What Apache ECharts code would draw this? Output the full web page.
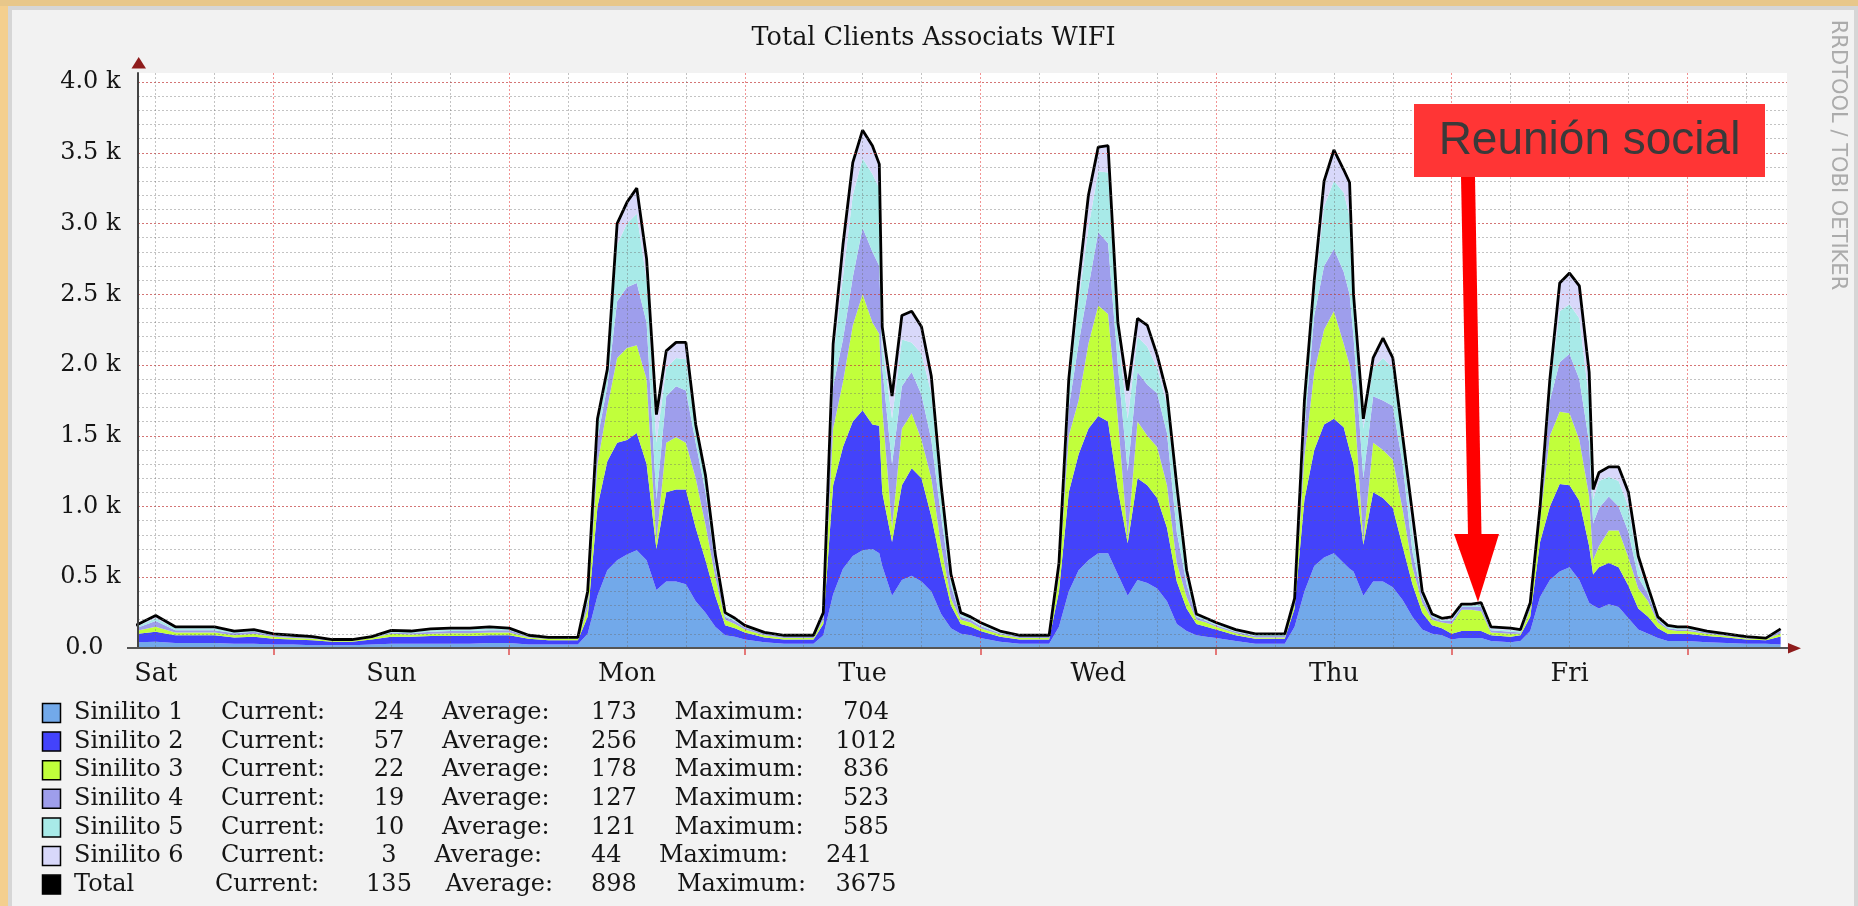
<!DOCTYPE html>
<html>
<head>
<meta charset="utf-8">
<script src="https://cdn.jsdelivr.net/npm/echarts@6/dist/echarts.min.js"></script>
<style>
html,body{margin:0;padding:0;background:#F2F2F2;}
#c{width:1858px;height:906px;}
</style>
</head>
<body>
<div id="c"></div>
<script>
// ---- data (hours counted from Saturday 00:00) ----
const hours = [10,12,14,16,18,20,22,24,26,28,30,32,34,36,38,40,42,44,46,48,50,52,54,
55,56,57,58,59,60,61,62,63,64,65,66,67,68,69,70,71,
72,74,76,78,
79,80,81,82,83,84,85,85.7,86,87,88,89,90,91,92,93,94,95,
96,98,100,102,
103,104,105,106,107,108,109,110,111,112,113,114,115,116,117,118,119,
120,122,124,126,
127,128,129,130,131,132,133,133.6,134,135,136,137,138,139,140,141,142,143,
144,145,146,147,148,150,
151,152,153,154,155,156,157,158,158.4,159,160,161,162,163,164,165,166,167,
168,170,172,174,176,177.5];

const sinilito1 = [40,45,35,35,35,30,30,25,25,20,20,20,25,30,30,30,30,30,35,35,25,25,25,
25,100,370,550,620,660,690,620,410,470,470,450,330,250,150,90,80,
60,40,30,30,
30,90,380,560,650,690,700,670,580,370,480,510,470,400,240,140,100,90,
70,45,30,30,
30,150,400,550,620,670,670,520,370,480,460,420,330,170,120,90,80,
70,50,30,30,
30,150,400,580,640,670,600,560,540,370,470,470,430,340,220,130,100,90,
60,70,70,70,50,40,
50,120,360,480,540,570,480,320,300,280,310,290,210,130,100,70,50,50,
50,40,35,30,30,24];

const sinilito2 = [60,70,55,55,55,45,50,40,35,35,25,25,35,50,50,55,55,55,55,55,40,30,30,
30,120,630,770,830,810,830,680,290,630,650,670,520,370,220,70,60,
50,35,30,30,
30,80,770,860,950,990,880,900,520,380,670,760,730,530,350,160,70,60,
50,35,30,30,
30,250,700,820,930,970,930,600,370,720,690,640,520,300,160,80,70,
60,40,35,35,
35,130,650,820,940,950,960,840,760,360,630,590,560,380,230,120,60,50,
40,50,50,50,40,40,
40,100,390,520,620,580,560,400,220,290,290,280,230,150,120,70,50,50,
50,45,40,30,25,57];

const sinilito3 = [20,35,20,20,20,15,20,15,10,10,7,7,10,20,15,15,20,20,20,20,10,8,8,
8,60,300,380,600,650,620,600,50,350,370,330,350,250,130,40,30,
20,15,10,10,
10,30,400,460,680,820,720,650,600,100,400,390,270,270,130,50,30,30,
20,15,10,10,
10,100,400,380,600,780,760,500,40,400,350,360,300,130,80,30,30,
20,15,10,10,
10,30,300,550,670,760,590,600,500,20,350,340,340,260,120,70,40,40,
70,150,150,140,20,20,
10,50,150,500,510,510,430,350,100,150,230,260,200,140,110,40,30,20,
20,15,10,8,7,22];

const sinilito4 = [20,40,15,15,15,15,15,10,10,7,4,4,5,10,10,15,15,15,15,15,7,5,5,
5,50,180,150,400,430,440,400,300,330,360,370,250,230,80,20,20,
15,10,10,10,
10,20,300,300,340,470,500,480,280,450,300,290,320,270,210,90,20,20,
15,10,10,10,
10,50,200,400,400,520,500,380,470,350,360,380,370,220,90,20,10,
10,10,10,10,
10,20,200,400,450,440,510,500,400,450,330,350,380,320,110,40,20,10,
20,20,20,30,15,15,
10,20,50,250,350,420,430,380,260,270,240,170,180,80,50,20,10,10,
10,10,8,5,4,19];

const sinilito5 = [10,20,15,15,15,10,10,5,5,5,2,2,3,8,8,10,10,10,15,10,5,4,4,
4,40,90,80,400,450,490,300,400,200,200,220,100,80,50,15,10,
5,5,5,5,
5,15,200,440,580,490,550,550,170,320,330,210,290,330,150,50,15,10,
10,5,5,5,
5,30,120,300,420,430,500,220,370,250,270,180,200,230,50,10,10,
10,5,7,7,
7,10,130,150,420,480,560,550,220,350,200,300,270,150,140,20,10,10,
10,10,10,15,10,10,
10,20,30,100,360,350,430,300,170,190,140,180,180,80,30,10,10,10,
10,5,4,4,2,10];

const sinilito6 = [10,20,10,10,10,5,5,5,5,3,2,2,2,7,7,10,10,10,10,5,3,3,3,
3,30,50,40,150,150,180,150,200,120,110,120,30,40,30,15,10,
10,5,5,5,
5,15,100,230,230,200,200,170,120,160,170,220,190,120,70,30,15,10,
15,10,5,5,
5,20,80,140,230,170,190,80,200,130,150,90,80,100,50,10,10,
10,10,8,8,
8,10,70,100,180,220,160,240,80,70,70,140,70,50,130,20,10,10,
20,10,10,15,15,15,
10,10,20,50,200,220,230,200,70,60,70,100,100,70,20,10,10,10,
10,5,3,3,2,3];

const seriesNames = ['Sinilito 1','Sinilito 2','Sinilito 3','Sinilito 4','Sinilito 5','Sinilito 6','Total'];
const currentVals = [24,57,22,19,10,3,135];
const averageVals = [173,256,178,127,121,44,898];
const maximumVals = [704,1012,836,523,585,241,3675];

const dayLabels = ['Sat','Sun','Mon','Tue','Wed','Thu','Fri'];
const dayLabelHours = [12,36,60,84,108,132,156];
const yTickLabels = ['0.0','0.5 k','1.0 k','1.5 k','2.0 k','2.5 k','3.0 k','3.5 k','4.0 k'];
const chartTitle = 'Total Clients Associats WIFI';
const noteText = 'Reunión social';

// ---- layout / style ----
const colors = ['#72A9EA','#4343FB','#C1FF3B','#9E9EEC','#A8EAE8','#D8D8FA','#000000'];
const xMin = 10.2, xMax = 178.15, yMax = 4064;
const minorHours = [], majorHours = [];
for (let h = 12; h <= 178; h += 6) { if (h % 24 === 0) majorHours.push(h); else minorHours.push(h); }
const SERIF = 'DejaVu Serif';
const txt = '#151515';
const gridGray = 'rgba(105,105,105,0.4)';
const gridRed = 'rgba(230,40,40,0.5)';

const layers = [sinilito1, sinilito2, sinilito3, sinilito4, sinilito5, sinilito6];
// value first, hour second: the stacked dimension is then the client count (y)
const series = layers.map((arr, i) => ({
  name: seriesNames[i],
  type: 'line',
  stack: 'clients',
  data: hours.map((h, j) => [arr[j], h]),
  encode: {x: 1, y: 0},
  symbol: 'none',
  showSymbol: false,
  smooth: false,
  z: 2,
  lineStyle: i === 5 ? {color: '#000', width: 2.8} : {width: 0, opacity: 0},
  itemStyle: {color: colors[i]},
  areaStyle: {color: colors[i], opacity: 1},
  silent: true
}));

// legend drawn as graphic text rows
const graphics = [];
const rowY0 = 713, rowStep = 28.6;
for (let i = 0; i < 7; i++) {
  const y = rowY0 + i * rowStep;
  const curLab = i === 6 ? 215 : 221;
  const avgLab = i === 6 ? 445.5 : (i === 5 ? 434.5 : 442);
  const maxLab = i === 6 ? 677 : (i === 5 ? 659 : 674.5);
  const maxVal = i === 5 ? 849 : 866;
  graphics.push({type: 'rect', shape: {x: 42.5, y: y - 9.5, width: 18, height: 19},
    style: {fill: colors[i], stroke: '#000', lineWidth: 1.5}, z: 100});
  const t = (x, s, al) => ({type: 'text', x: x, y: y, z: 100,
    style: {text: s, fontFamily: SERIF, fontSize: 24, fill: txt, align: al, textAlign: al,
      verticalAlign: 'middle', textVerticalAlign: 'middle'}});
  graphics.push(t(74, seriesNames[i], 'left'));
  graphics.push(t(curLab, 'Current:', 'left'));
  graphics.push(t(389, String(currentVals[i]), 'center'));
  graphics.push(t(avgLab, 'Average:', 'left'));
  graphics.push(t(591, String(averageVals[i]), 'left'));
  graphics.push(t(maxLab, 'Maximum:', 'left'));
  graphics.push(t(maxVal, String(maximumVals[i]), 'center'));
}
// frame
graphics.push({type: 'rect', shape: {x: 0, y: 0, width: 8, height: 906}, style: {fill: '#F4CF8E'}, z: 100});
graphics.push({type: 'rect', shape: {x: 0, y: 0, width: 1858, height: 6}, style: {fill: '#E8C78A'}, z: 100});
graphics.push({type: 'rect', shape: {x: 10, y: 8, width: 1846, height: 902}, style: {fill: 'none', stroke: '#D6D6D6', lineWidth: 4}, z: 100});
// axis arrows
graphics.push({type: 'polygon', shape: {points: [[131.5, 68.5], [146, 68.5], [138.7, 57]]}, style: {fill: '#8E1C1C'}, z: 100});
graphics.push({type: 'polygon', shape: {points: [[1788, 643], [1788, 653.5], [1801, 648.3]]}, style: {fill: '#8E1C1C'}, z: 100});
graphics.push({type: 'line', shape: {x1: 127, y1: 648, x2: 1790, y2: 648}, style: {stroke: '#555', lineWidth: 2}, z: 99});
// watermark
graphics.push({type: 'text', x: 1837, y: 155, rotation: -Math.PI / 2, z: 100,
  style: {text: 'RRDTOOL / TOBI OETIKER', fontFamily: 'DejaVu Sans', fontSize: 21, fill: '#ABABAB',
    align: 'center', textAlign: 'center', verticalAlign: 'middle', textVerticalAlign: 'middle'}});
// annotation
graphics.push({type: 'rect', shape: {x: 1414, y: 104, width: 351, height: 73}, style: {fill: '#FF3535'}, z: 110});
graphics.push({type: 'text', x: 1589.5, y: 141, z: 111,
  style: {text: noteText, fontFamily: 'Liberation Sans', fontSize: 46, fill: '#3A3A3A',
    align: 'center', textAlign: 'center', verticalAlign: 'middle', textVerticalAlign: 'middle'}});
graphics.push({type: 'polygon', shape: {points: [[1461, 177], [1475, 177], [1481.5, 535], [1468, 535]]}, style: {fill: '#FF0000'}, z: 110});
graphics.push({type: 'polygon', shape: {points: [[1454, 534], [1499, 534], [1478, 602]]}, style: {fill: '#FF0000'}, z: 110});

const option = {
  animation: false,
  backgroundColor: '#F2F2F2',
  title: {text: chartTitle, left: 933.5, top: 24, padding: 0, textAlign: 'center',
    textStyle: {fontFamily: SERIF, fontSize: 25.5, fontWeight: 'normal', color: txt, lineHeight: 28}},
  grid: {left: 138, top: 73, right: 71, bottom: 258, show: true, backgroundColor: '#FFFFFF', borderWidth: 0},
  xAxis: [
    {type: 'value', min: xMin, max: xMax, z: 5,
      axisLine: {show: true, onZero: false, lineStyle: {color: '#555', width: 2}},
      axisTick: {show: false, customValues: minorHours},
      axisLabel: {customValues: dayLabelHours, margin: 13,
        formatter: v => dayLabels[dayLabelHours.indexOf(Math.round(v))] || '',
        fontFamily: SERIF, fontSize: 25.5, color: txt},
      splitLine: {show: true, lineStyle: {color: gridGray, width: 1, type: [2, 2]}}},
    {type: 'value', min: xMin, max: xMax, z: 5, position: 'bottom',
      axisLine: {show: false, onZero: false},
      axisTick: {show: true, customValues: majorHours, length: 7, lineStyle: {color: '#E05050', width: 1.5}},
      axisLabel: {show: false},
      splitLine: {show: true, lineStyle: {color: gridRed, width: 1, type: [2, 2]}}}
  ],
  yAxis: [
    {type: 'value', min: 0, max: yMax, interval: 100, z: 5, position: 'left',
      axisLine: {show: true, lineStyle: {color: '#444', width: 2}},
      axisTick: {show: false}, axisLabel: {show: false},
      splitLine: {show: true, showMaxLine: false, showMinLine: false,
        lineStyle: {color: gridGray, width: 1, type: [2, 2]}}},
    {type: 'value', min: 0, max: yMax, interval: 500, z: 5, position: 'left', offset: 0,
      axisLine: {show: false}, axisTick: {show: false},
      axisLabel: {margin: 17.5, fontFamily: SERIF, fontSize: 24, color: txt,
        formatter: v => {
          const i = Math.round(v / 500);
          if (Math.abs(v - i * 500) > 1 || i >= yTickLabels.length) return '';
          return i === 0 ? '{z|' + yTickLabels[0] + '}' : yTickLabels[i];
        },
        rich: {z: {fontFamily: SERIF, fontSize: 24, color: txt, padding: [0, 17, 0, 0]}}},
      splitLine: {show: true, showMaxLine: false, showMinLine: false,
        lineStyle: {color: gridRed, width: 1, type: [2, 2]}}}
  ],
  series: series,
  graphic: {elements: graphics}
};

const chart = echarts.init(document.getElementById('c'), null, {renderer: 'canvas', width: 1858, height: 906});
chart.setOption(option);
</script>
</body>
</html>
